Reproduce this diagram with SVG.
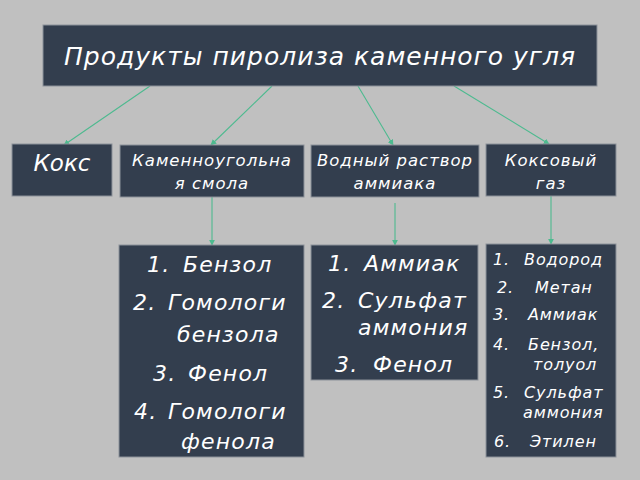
<svg xmlns="http://www.w3.org/2000/svg" width="640" height="480" viewBox="0 0 640 480">
<defs>
<style>
.box{fill:#333e4e;stroke:#8c9199;stroke-width:1}
.t{fill:#ffffff;font-family:"DejaVu Sans",sans-serif;font-style:italic}
.c{text-anchor:middle}
.h{font-size:16.5px;letter-spacing:1px}
.l{font-size:22px;letter-spacing:1.2px}
.r{font-size:16px;letter-spacing:0.9px}
.conn{stroke:#4dba8f;stroke-width:1.1;fill:none;marker-end:url(#ah)}
</style>
<marker id="ah" viewBox="0 0 8 8" refX="7" refY="4" markerWidth="6" markerHeight="6" orient="auto" markerUnits="userSpaceOnUse">
<path d="M0,0 L8,4 L0,8 z" fill="#4dba8f"/>
</marker>
</defs>
<rect width="640" height="480" fill="#c0c0c0"/>
<g id="connectors">
<line class="conn" x1="150" y1="86" x2="64" y2="145"/>
<line class="conn" x1="272" y1="86" x2="211" y2="145"/>
<line class="conn" x1="358" y1="86" x2="393" y2="145"/>
<line class="conn" x1="454" y1="86" x2="549" y2="144"/>
<line class="conn" x1="212" y1="197" x2="212" y2="245"/>
<line class="conn" x1="395" y1="203" x2="395" y2="245"/>
<line class="conn" x1="551" y1="196" x2="551" y2="244"/>
</g>
<g id="title">
<rect class="box" x="43" y="25" width="554" height="61"/>
<text class="t c" x="320" y="65" font-size="25" letter-spacing="1">Продукты пиролиза каменного угля</text>
</g>
<g id="koks">
<rect class="box" x="12" y="144" width="100" height="52"/>
<text class="t c" x="62" y="171" font-size="23">Кокс</text>
</g>
<g id="smola">
<rect class="box" x="120" y="145" width="184" height="52"/>
<text class="t c h" x="212" y="166">Каменноугольна</text>
<text class="t c h" x="212" y="189">я смола</text>
</g>
<g id="rastvor">
<rect class="box" x="311" y="145" width="168" height="52"/>
<text class="t c h" x="395" y="166">Водный раствор</text>
<text class="t c h" x="395" y="189">аммиака</text>
</g>
<g id="gaz">
<rect class="box" x="486" y="144" width="130" height="52"/>
<text class="t c h" x="551" y="166">Коксовый</text>
<text class="t c h" x="551" y="189">газ</text>
</g>
<g id="list-smola">
<rect class="box" x="119" y="245" width="185" height="212"/>
<text class="t l" x="147" y="272">1.</text><text class="t l" x="183" y="272">Бензол</text>
<text class="t l" x="133" y="310">2.</text><text class="t l" x="168" y="310">Гомологи</text>
<text class="t l" x="177" y="342">бензола</text>
<text class="t l" x="153" y="381">3.</text><text class="t l" x="188" y="381">Фенол</text>
<text class="t l" x="134" y="419">4.</text><text class="t l" x="168" y="419">Гомологи</text>
<text class="t l" x="181" y="449">фенола</text>
</g>
<g id="list-rastvor">
<rect class="box" x="311" y="245" width="167" height="135"/>
<text class="t l" x="328" y="271">1.</text><text class="t l" x="364" y="271">Аммиак</text>
<text class="t l" x="322" y="308">2.</text><text class="t l" x="358" y="308">Сульфат</text>
<text class="t l" x="358" y="335">аммония</text>
<text class="t l" x="335" y="372">3.</text><text class="t l" x="373" y="372">Фенол</text>
</g>
<g id="list-gaz">
<rect class="box" x="486" y="244" width="130" height="213"/>
<text class="t r" x="493" y="265">1.</text><text class="t r" x="524" y="265">Водород</text>
<text class="t r" x="497" y="293">2.</text><text class="t r" x="535" y="293">Метан</text>
<text class="t r" x="493" y="320">3.</text><text class="t r" x="528" y="320">Аммиак</text>
<text class="t r" x="493" y="350">4.</text><text class="t r" x="528" y="350">Бензол,</text>
<text class="t r" x="533" y="370">толуол</text>
<text class="t r" x="493" y="398">5.</text><text class="t r" x="524" y="398">Сульфат</text>
<text class="t r" x="523" y="418">аммония</text>
<text class="t r" x="494" y="447">6.</text><text class="t r" x="530" y="447">Этилен</text>
</g>
</svg>
